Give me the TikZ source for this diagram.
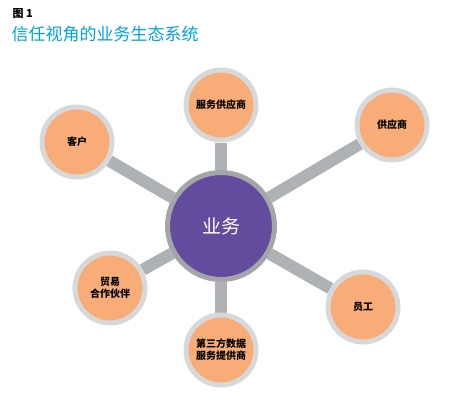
\documentclass[tikz,border=0pt]{standalone}
\usepackage{fontspec}
\setmainfont{Noto Sans CJK SC}
\usetikzlibrary{backgrounds}
\definecolor{hubpurple}{HTML}{634C9E}
\definecolor{ringgray}{HTML}{A2A6A9}
\definecolor{lightring}{HTML}{D6D8D9}
\definecolor{satorange}{HTML}{F8AD79}
\definecolor{titleblue}{HTML}{00A3DF}
\definecolor{bargray}{HTML}{AEB2B5}

\begin{document}
\begin{tikzpicture}[x=1pt,y=-1pt,
   hub/.style={draw=ringgray,line width=5pt,fill=hubpurple,circle,
     minimum size=107pt,inner sep=0pt,text=white,font=\fontsize{19}{22}\selectfont},
   sat/.style={draw=lightring,line width=5pt,fill=satorange,circle,
     minimum size=70pt,inner sep=0pt,align=center,
     font=\fontsize{10}{12}\selectfont\bfseries},
   bar/.style={draw=bargray,line width=12pt}]

\useasboundingbox (0,0) rectangle (450,400);

\node[anchor=west,font=\fontsize{11}{13}\selectfont\bfseries] (fig) at (9,14) {图 1};
\node[anchor=west,text=titleblue,font=\fontsize{17}{20}\selectfont] (title) at (8,34) {信任视角的业务生态系统};

\node[hub] (biz) at (221,226) {业务};

\node[sat] (service) at (221,105) {服务供应商};
\node[sat] (supplier) at (392,125) {供应商};
\node[sat] (customer) at (77,142) {客户};
\node[sat] (partner) at (110,288) {贸易\\合作伙伴};
\node[sat] (data) at (221,350) {第三方数据\\服务提供商};
\node[sat] (staff) at (363,307) {员工};

% spokes go under the circles
\begin{pgfonlayer}{background}
\foreach \s in {service,supplier,customer,partner,data,staff}
  \draw[bar] (biz) -- (\s);
\end{pgfonlayer}

\end{tikzpicture}
\end{document}
